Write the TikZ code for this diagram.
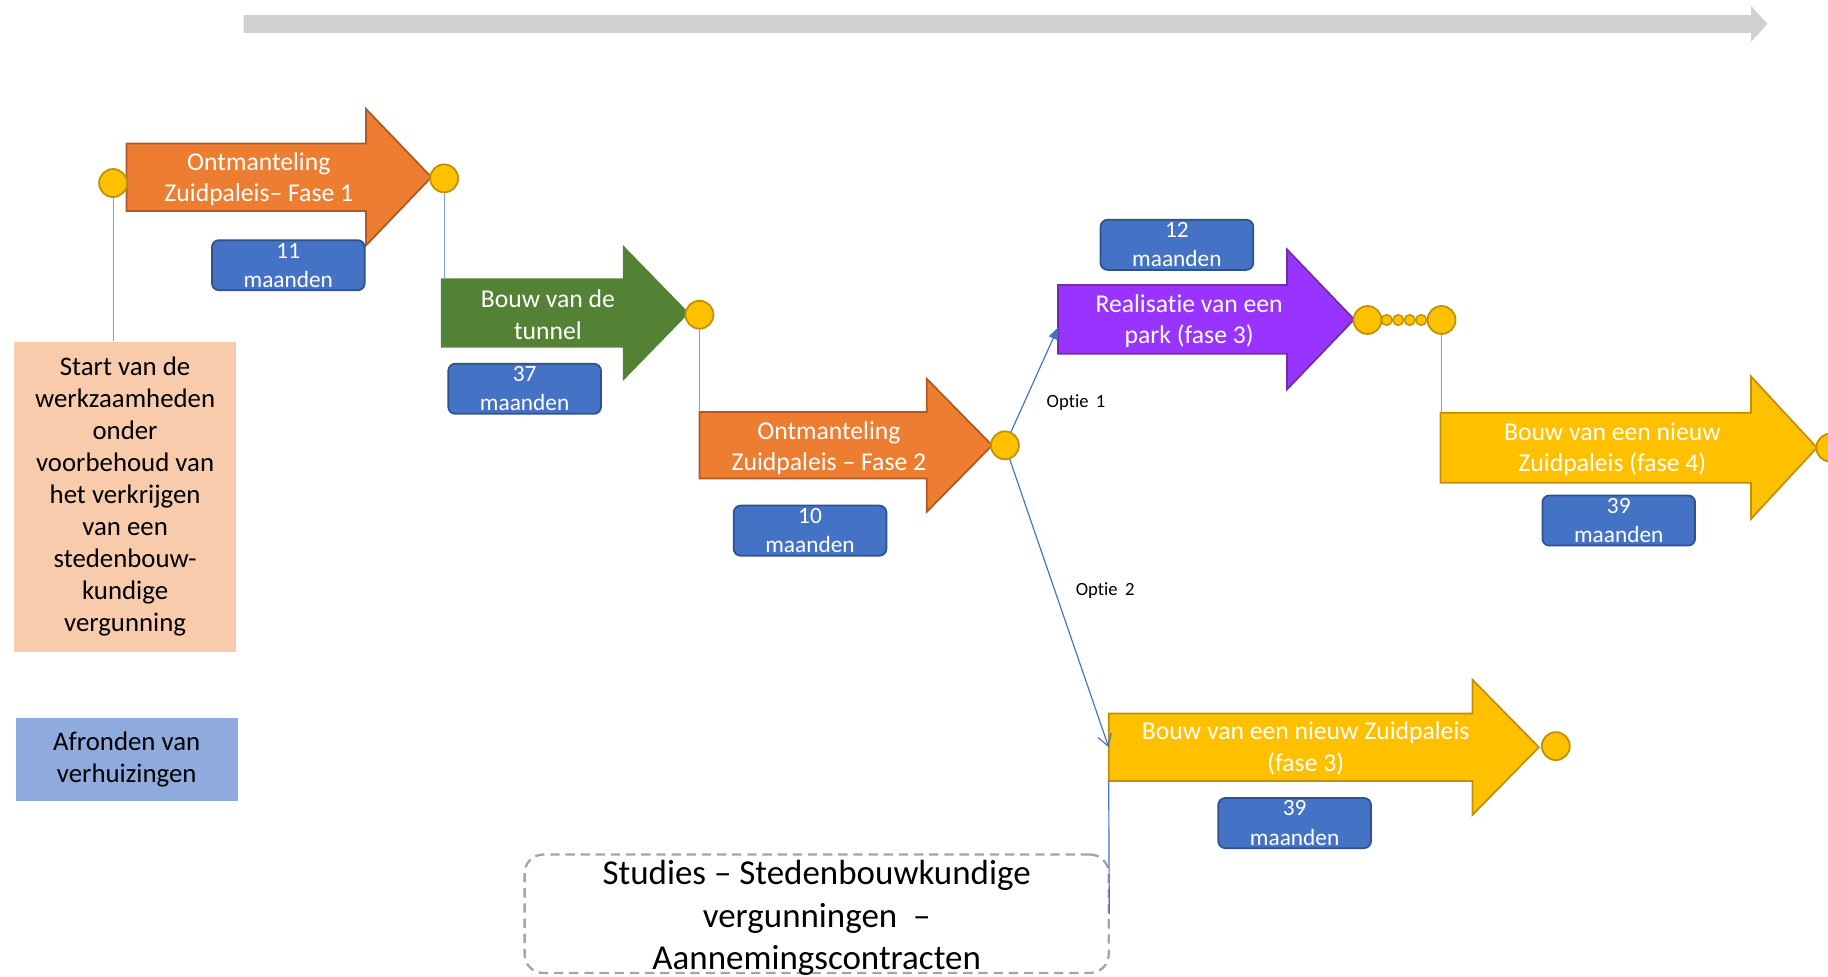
\documentclass[tikz,border=0pt]{standalone}
\usepackage{fontspec}
\setmainfont{Carlito}[Ligatures=NoCommon]
\usetikzlibrary{arrows.meta}
\definecolor{orangeF}{HTML}{ED7D31}
\definecolor{orangeD}{HTML}{AE5A21}
\definecolor{greenF}{HTML}{548235}
\definecolor{greenD}{HTML}{548235}
\definecolor{purpleF}{HTML}{9933FF}
\definecolor{purpleD}{HTML}{7030A0}
\definecolor{yellowF}{HTML}{FFC000}
\definecolor{yellowD}{HTML}{BF9000}
\definecolor{blueF}{HTML}{4472C4}
\definecolor{blueD}{HTML}{2F528F}
\definecolor{peach}{HTML}{F8CBAD}
\definecolor{lblue}{HTML}{8FAADC}
\definecolor{barC}{HTML}{D0D0D0}
\definecolor{dashC}{HTML}{A5A5A5}
\definecolor{vlinkC}{HTML}{7F9FD5}
\tikzset{
  phasetext/.style={text=white, align=center, font=\fontsize{11}{13.5}\selectfont, inner sep=0pt},
  dur/.style={draw=blueD, fill=blueF, line width=0.75pt, rounded corners=3pt, text=white,
    align=center, font=\fontsize{10}{12.5}\selectfont, inner sep=0pt,
    minimum width=65.5pt, minimum height=21.5pt},
  milestone/.style={circle, draw=yellowD, fill=yellowF, line width=0.75pt, minimum size=12pt, inner sep=0pt},
  minims/.style={circle, draw=yellowD, fill=yellowF, line width=0.6pt, minimum size=4.6pt, inner sep=0pt},
  vlink/.style={draw=vlinkC, line width=0.5pt},
  olink/.style={draw=blueF, line width=0.5pt},
  infobox/.style={align=center, inner sep=0pt, font=\fontsize{11.5}{13.75}\selectfont},
  optlabel/.style={font=\fontsize{8}{9.6}\selectfont, inner sep=0pt},
}
% name, x left, x head start, x tip, y center, body half, head half, fill, draw
\newcommand\phasearrow[9]{%
  \draw[fill=#8, draw=#9, line width=0.75pt, line join=miter]
    (#2,#5-#6) -- (#3,#5-#6) -- (#3,#5-#7) -- (#4,#5) -- (#3,#5+#7) -- (#3,#5+#6) -- (#2,#5+#6) -- cycle;
  \coordinate (#1-w) at (#2,#5);
  \coordinate (#1-nw) at (#2,#5-#6);
  \coordinate (#1-sw) at (#2,#5+#6);
  \coordinate (#1-tip) at (#4,#5);
}
\begin{document}
\begin{tikzpicture}[x=0.5pt, y=-0.5pt]
\useasboundingbox (0,0) rectangle (1568,838);

% top time arrow
\fill[barC] (209,12.9) -- (1502,12.9) -- (1502,5) -- (1516,20.6) -- (1502,36) -- (1502,28.3) -- (209,28.3) -- cycle;

% phase arrows
\phasearrow{a1}{108.5}{314}{370}{152}{29}{58.5}{orangeF}{orangeD}
\node[phasetext] (t1) at (222,153.5) {Ontmanteling\\Zuidpaleis– Fase 1};
\phasearrow{a2}{379}{535}{590}{268.5}{29}{56.5}{greenF}{greenD}
\node[phasetext] (t2) at (470,270) {Bouw van de\\tunnel};
\phasearrow{a3}{600}{795}{851}{382}{28.5}{57}{orangeF}{orangeD}
\node[phasetext] (t3) at (711,384.5) {Ontmanteling\\Zuidpaleis – Fase 2};
\phasearrow{a4}{907.5}{1104}{1161.5}{274}{29.5}{60}{purpleF}{purpleD}
\node[phasetext] (t4) at (1020,275.5) {Realisatie van een\\park (fase 3)};
\phasearrow{a5}{1235.5}{1502}{1558.5}{384}{30}{61}{yellowF}{yellowD}
\node[phasetext] (t5) at (1383,385.5) {Bouw van een nieuw\\Zuidpaleis (fase 4)};
\phasearrow{a6}{951}{1263}{1320}{641}{29}{58}{yellowF}{yellowD}
\node[phasetext] (t6) at (1120,642) {Bouw van een nieuw Zuidpaleis\\(fase 3)};

% duration boxes
\node[dur] (d1) at (247.3,227.5) {11\\maanden};
\node[dur] (d2) at (450,333.5) {37\\maanden};
\node[dur] (d3) at (694.8,455.2) {10\\maanden};
\node[dur] (d4) at (1009.5,210) {12\\maanden};
\node[dur] (d5) at (1388.5,446.5) {39\\maanden};
\node[dur] (d6) at (1110.5,706) {39\\maanden};

% info boxes
\node[infobox, fill=peach, minimum width=95.3pt, minimum height=133pt] (start) at (107.3,426)
  {\raisebox{-1pt}{\parbox{95pt}{\centering Start van de\\werkzaamheden\\onder\\voorbehoud van\\het verkrijgen\\van een\\stedenbouw-\\kundige\\vergunning}}};
\node[infobox, fill=lblue, minimum width=95.3pt, minimum height=35.5pt] (afr) at (108.7,651.5)
  {Afronden van\\verhuizingen};
\node[draw=dashC, line width=1pt, dash pattern=on 4pt off 2.5pt, rounded corners=8pt,
  minimum width=250.5pt, minimum height=50.8pt, inner sep=0pt] (studies) at (700.5,783.8) {};
\node[align=center, inner sep=0pt, font=\fontsize{15}{18.25}\selectfont] (studiestext) at (700.5,787.5)
  {Studies – Stedenbouwkundige\\vergunningen \ –\\Aannemingscontracten};

% milestones
\node[milestone] (c0) at (97,157) {};
\node[milestone] (c1) at (381,153) {};
\node[milestone] (c2) at (600,270) {};
\node[milestone] (c3) at (862,382) {};
\node[milestone] (c4) at (1173,274.5) {};
\node[minims] (s1) at (1189.5,274.5) {};
\node[minims] (s2) at (1199.3,274.5) {};
\node[minims] (s3) at (1209.2,274.5) {};
\node[minims] (s4) at (1219,274.5) {};
\node[milestone] (c5) at (1236.5,274.5) {};
\node[milestone] (c6) at (1334.5,640) {};
\node[milestone] (c7) at (1570,384) {};

% connectors
\draw[vlink] (c0.south) -- (c0.south |- start.north);
\draw[vlink] (c1.south) -- (c1.south |- a2-nw);
\draw[vlink] (c2.south) -- (c2.south |- a3-nw);
\draw[vlink] (c5.south) -- (c5.south |- a5-nw);
\coordinate (a4-in) at (907.5,281);
\draw[olink, -{Triangle[length=5pt,width=4pt]}] (c3) -- (a4-in);
\draw[olink, -{Straight Barb[length=5pt,width=6pt]}] (c3) -- (a6-w);
\coordinate (a6-end) at (951.5,784);
\draw[olink] (a6-sw) -- (a6-end);

% option labels
\node[optlabel] (o1) at (923,345) {Optie \,1};
\node[optlabel] (o2) at (948,507) {Optie \,2};
\end{tikzpicture}
\end{document}
